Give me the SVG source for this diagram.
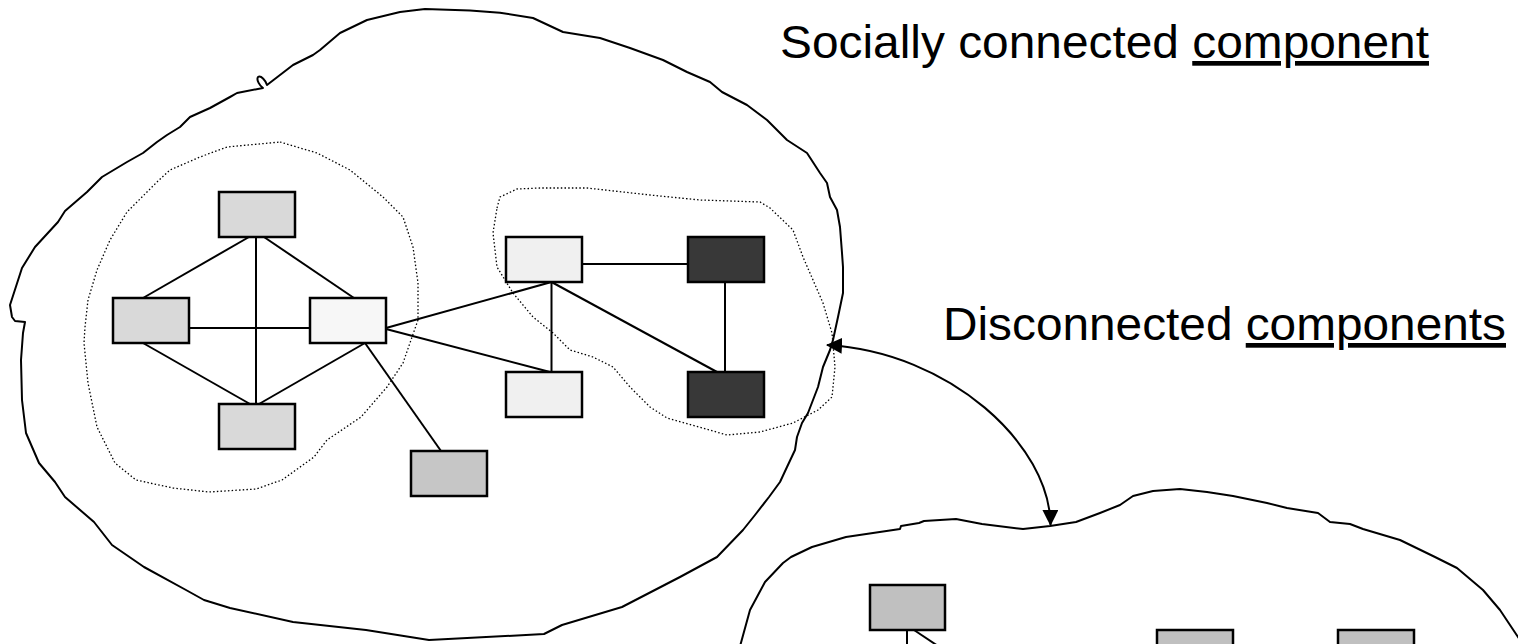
<svg xmlns="http://www.w3.org/2000/svg" width="1518" height="644" viewBox="0 0 1518 644">
<style>
.cloud{fill:none;stroke:#000;stroke-width:2;stroke-linejoin:round;stroke-linecap:round}
.dot{fill:none;stroke:#000;stroke-width:1.3;stroke-dasharray:1.5 2.2}
.node{stroke:#000;stroke-width:2.5}
.edge{stroke:#000;stroke-width:2;fill:none}
.lbl{font-family:"Liberation Sans",Arial,sans-serif;font-size:47px;fill:#000}
</style>
<defs>
<marker id="ah" viewBox="0 0 16 16" refX="15" refY="8" markerWidth="16" markerHeight="16" markerUnits="userSpaceOnUse" orient="auto-start-reverse">
<path d="M0,0 L16,8 L0,16 Z" fill="#000"/>
</marker>
</defs>
<rect width="1518" height="644" fill="#fff"/>

<g id="social-cloud">
<path class="cloud" d="M267,85 L293,65 L313,55 L320,50 L340,33 L367,20 L400,12 L425,9 L470,10.5 L500,12.7 L533,18 L563,32 L600,38 L630,48 L663,60 L687,72 L710,82 L722,92 L747,105 L767,120 L787,140 L807,153 L820,173 L827,183 L830,197 L837,210 L840,227 L842,253 L843,267 L843,293 L838,317 L833,340 L830,350 L823,367 L818,387 L813,400 L808,413 L802,423 L797,437 L795,450 L787,467 L780,482 L769,497 L755,515 L743,530 L717,557 L680,577 L622,607 L562,625 L544,634 L429,640 L366,630 L293,622 L230,608 L204,600 L186,590 L144,567 L112,545 L94,522 L65,497 L55,482 L39,463 L26,433 L22,400 L21,360 L23,333 L25,322 L15,321 L12,317 L10,305 L22,268 L35,247 L58,222 L65,211 L87,192 L102,177 L127,162 L143,153 L157,142 L167,135 L180,127 L190,117 L210,108 L230,97 L237,93 L263,88 C260,86 256,80 258,77 C261,75 266,81 267,85"/>
</g>

<g id="community-left">
<path class="dot" d="M280,142 L317,153 L350,170 L383,197 L403,217 L413,247 L418,283 L418,320 L411,340 L403,363 L387,387 L361,417 L327,440 L314,457 L282,480 L256,489 L209,492 L173,488 L136,480 L115,463 L97,427 L88,383 L84,343 L85,327 L88,300 L97,270 L110,240 L127,212 L157,182 L170,170 L200,157 L227,147 Z"/>
</g>
<g id="community-right">
<path class="dot" d="M497,208 L500,197 L517,189 L540,188 L587,188 L650,195 L700,200 L760,202 L770,208 L793,230 L803,257 L813,280 L823,303 L832,333 L835,367 L832,397 L818,410 L793,423 L760,432 L727,435 L667,418 L650,407 L630,387 L613,367 L593,357 L570,350 L553,333 L533,317 L513,293 L497,267 L493,233 Z"/>
</g>

<g id="disconnected-cloud">
<path class="cloud" d="M739,650 L750,610 L765,582 L783,563 L791,557 L812,547 L846,537 L900,529 L901,526 L919,523 L924,521 L956,519 L982,524 L1023,529 L1050,526 L1076,522 L1100,513 L1120,505 L1133,496 L1153,491 L1180,489 L1207,492 L1233,496 L1267,503 L1287,508 L1318,513 L1330,522 L1350,524 L1363,529 L1400,540 L1435,557 L1457,568 L1483,590 L1500,610 L1520,640"/>
</g>

<g id="connectors">
<line class="edge" x1="249" y1="237" x2="143" y2="298"/>
<line class="edge" x1="256" y1="237" x2="256" y2="404"/>
<line class="edge" x1="264" y1="237" x2="354" y2="298"/>
<line class="edge" x1="189" y1="328" x2="310" y2="328"/>
<line class="edge" x1="143" y1="343" x2="250" y2="404"/>
<line class="edge" x1="365" y1="343" x2="259" y2="404"/>
<line class="edge" x1="365" y1="343" x2="441" y2="451"/>
<line class="edge" x1="386" y1="328" x2="551.5" y2="282"/>
<line class="edge" x1="386" y1="329" x2="550" y2="372"/>
<line class="edge" x1="551.5" y1="282" x2="551.5" y2="372"/>
<line class="edge" x1="551.5" y1="282" x2="717" y2="372"/>
<line class="edge" x1="582" y1="264" x2="688" y2="264"/>
<line class="edge" x1="725" y1="282" x2="725" y2="372"/>
<line class="edge" x1="907" y1="630" x2="907" y2="660"/>
<line class="edge" x1="914" y1="630" x2="944" y2="650"/>
<path class="edge" d="M827,345 C950,352 1050,445 1050.5,525" marker-start="url(#ah)" marker-end="url(#ah)"/>
</g>

<g id="n-top"><rect class="node" x="219" y="192" width="76" height="45" fill="#d9d9d9"/></g>
<g id="n-left"><rect class="node" x="113" y="298" width="76" height="45" fill="#d9d9d9"/></g>
<g id="n-center"><rect class="node" x="310" y="298" width="76" height="45" fill="#f7f7f7"/></g>
<g id="n-bottom"><rect class="node" x="219" y="404" width="76" height="45" fill="#d9d9d9"/></g>
<g id="n-lone"><rect class="node" x="411" y="451" width="76" height="45" fill="#c6c6c6"/></g>
<g id="n-light-top"><rect class="node" x="506" y="237" width="76" height="45" fill="#f0f0f0"/></g>
<g id="n-light-bottom"><rect class="node" x="506" y="372" width="76" height="45" fill="#f0f0f0"/></g>
<g id="n-dark-top"><rect class="node" x="688" y="237" width="76" height="45" fill="#383838"/></g>
<g id="n-dark-bottom"><rect class="node" x="688" y="372" width="76" height="45" fill="#383838"/></g>
<g id="d-node-1"><rect class="node" x="870" y="585" width="75" height="45" fill="#c0c0c0"/></g>
<g id="d-node-2"><rect class="node" x="1157" y="630" width="76" height="45" fill="#c0c0c0"/></g>
<g id="d-node-3"><rect class="node" x="1338" y="630" width="76" height="45" fill="#c0c0c0"/></g>

<g id="labels">
<text class="lbl" x="780" y="58" textLength="649" lengthAdjust="spacingAndGlyphs">Socially connected <tspan text-decoration="underline">component</tspan></text>
<text class="lbl" x="943" y="340" textLength="563" lengthAdjust="spacingAndGlyphs">Disconnected <tspan text-decoration="underline">components</tspan></text>
</g>
</svg>
